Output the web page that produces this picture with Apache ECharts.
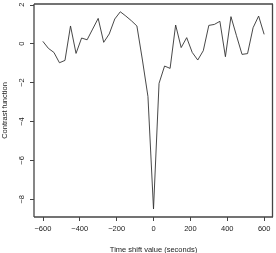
<!DOCTYPE html>
<html><head><meta charset="utf-8">
<script src="https://cdn.jsdelivr.net/npm/echarts@6/dist/echarts.min.js"></script>
<style>html,body{margin:0;padding:0;background:#fff}#c{width:276px;height:253px}</style>
</head><body><div id="c"></div>
<script>
const timeShift = [-600,-570,-540,-510,-480,-450,-420,-390,-360,-330,-300,-270,-240,-210,-180,-150,-120,-90,-60,-30,0,30,60,90,120,150,180,210,240,270,300,330,360,390,420,450,480,510,540,570,600];
const contrast = [0.12,-0.24,-0.45,-0.98,-0.86,0.91,-0.5,0.29,0.2,0.75,1.3,0.07,0.5,1.27,1.64,1.42,1.18,0.91,-0.84,-2.72,-8.5,-2.04,-1.15,-1.27,0.96,-0.2,0.31,-0.45,-0.84,-0.36,0.94,0.99,1.15,-0.67,1.39,0.41,-0.55,-0.51,0.82,1.42,0.48];
const xTicks = [-600,-400,-200,0,200,400,600];
const yTicks = [-8,-6,-4,-2,0,2];
const font = 'Liberation Sans, Arial, sans-serif';
const fmt = v => String(v).replace('-', '\u2212');
const hiddenLine = {show:true,onZero:false,lineStyle:{color:'#000',opacity:0}};
const G = {left:34, right:3, top:4, bottom:36, W:276, H:253};
const x0 = G.left, x1 = G.W - G.right, y0 = G.top, y1 = G.H - G.bottom;
const edgeStyle = {stroke:'#444',lineWidth:1.3};
const chart = echarts.init(document.getElementById('c'), null, {renderer:'canvas'});
chart.setOption({
  animation:false,
  grid:{left:G.left,right:G.right,top:G.top,bottom:G.bottom,containLabel:false,outerBoundsMode:'none'},
  graphic:[
    {type:'line',z:100,silent:true,shape:{x1:x0,y1:y0,x2:x1,y2:y0},style:edgeStyle},
    {type:'line',z:100,silent:true,shape:{x1:x1-0.5,y1:y0,x2:x1-0.5,y2:y1},style:edgeStyle},
    {type:'line',z:100,silent:true,shape:{x1:x0,y1:y1,x2:x1,y2:y1},style:edgeStyle},
    {type:'line',z:100,silent:true,shape:{x1:x0,y1:y0,x2:x0,y2:y1},style:edgeStyle}
  ],
  xAxis:{type:'value',min:-648,max:648,position:'bottom',
    name:'Time shift value (seconds)',nameLocation:'middle',nameGap:29,
    nameTextStyle:{fontFamily:font,fontSize:7.5,color:'#222'},
    axisLine:hiddenLine,
    axisTick:{show:true,length:4,customValues:xTicks,lineStyle:{color:'#444'}},
    axisLabel:{customValues:xTicks,margin:8,fontFamily:font,fontSize:7.5,color:'#222',formatter:fmt},
    splitLine:{show:false}},
  yAxis:{type:'value',min:-8.91,max:2.04,position:'left',
    name:'Contrast function',nameLocation:'middle',nameGap:25,
    nameTextStyle:{fontFamily:font,fontSize:7.5,color:'#222'},
    axisLine:hiddenLine,
    axisTick:{show:true,length:4,customValues:yTicks,lineStyle:{color:'#444'}},
    axisLabel:{customValues:yTicks,rotate:90,margin:8,fontFamily:font,fontSize:7.5,color:'#222',formatter:fmt},
    splitLine:{show:false}},
  series:[{type:'line',data:timeShift.map((t,i)=>[t,contrast[i]]),showSymbol:false,
    lineStyle:{color:'#333',width:0.9}}]
});
</script></body></html>
